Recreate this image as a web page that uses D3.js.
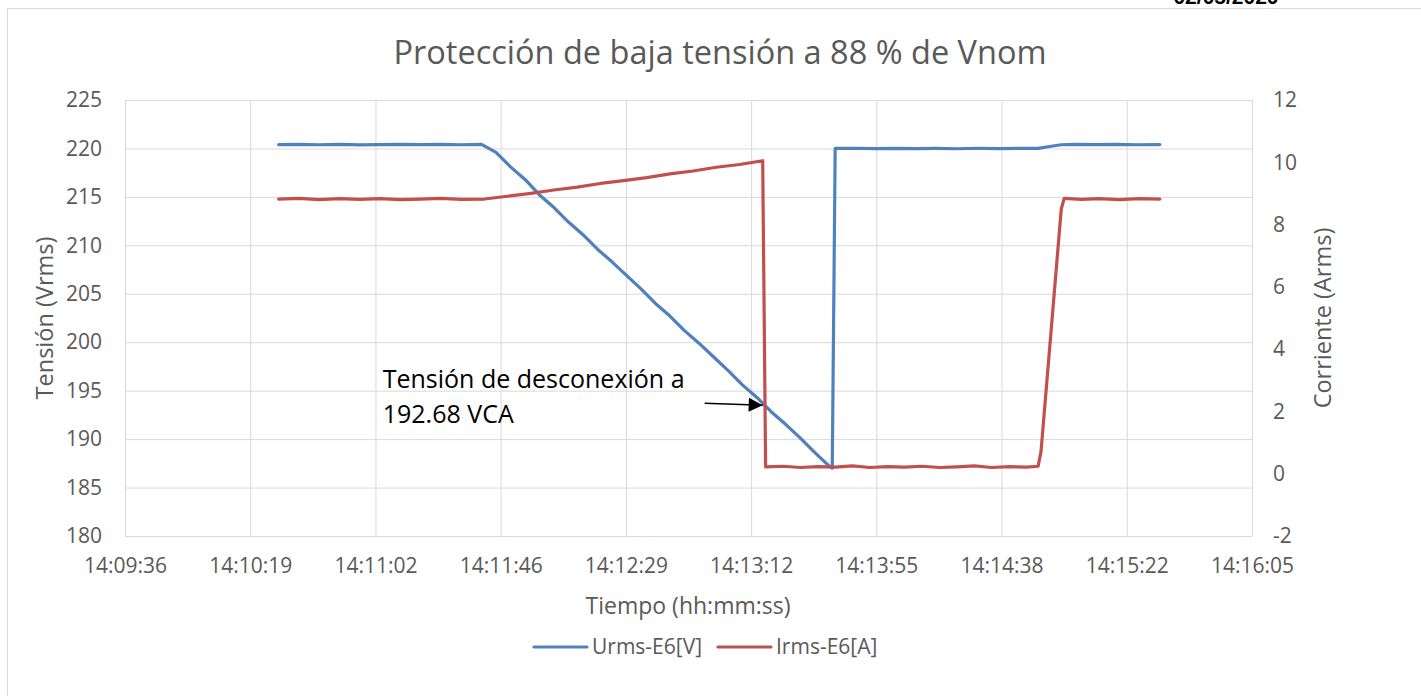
<html>
<head>
<meta charset="utf-8">
<script src="https://d3js.org/d3.v7.min.js"></script>
<style>
  body { margin: 0; background: #fff; }
  text { font-family: "Open Sans", sans-serif; fill: #595959; }
  .grid line { stroke: #d9d9d9; stroke-width: 1; }
  .grid path { display: none; }
  .axis path, .axis line { display: none; }
</style>
</head>
<body>
<svg width="1421" height="696"></svg>
<script>
// tick labels
var xTickLabels = ["14:09:36","14:10:19","14:11:02","14:11:46","14:12:29","14:13:12","14:13:55","14:14:38","14:15:22","14:16:05"];
var leftTicks = [180,185,190,195,200,205,210,215,220,225];
var rightTicks = [-2,0,2,4,6,8,10,12];

// Urms-E6[V]
var uTimes = ["14:10:29","14:10:36","14:10:43","14:10:50","14:10:57","14:11:04","14:11:11","14:11:18","14:11:25","14:11:32","14:11:39",
  "14:11:44","14:11:49","14:11:54","14:11:59","14:12:04","14:12:09","14:12:14","14:12:19","14:12:24","14:12:29",
  "14:12:34","14:12:39","14:12:44","14:12:49","14:12:54","14:12:59","14:13:04","14:13:09","14:13:14","14:13:19",
  "14:13:24","14:13:29","14:13:34","14:13:39","14:13:40","14:13:41",
  "14:13:48","14:13:55","14:14:02","14:14:09","14:14:16","14:14:23","14:14:30","14:14:37","14:14:44","14:14:51",
  "14:14:55","14:14:59","14:15:04","14:15:11","14:15:18","14:15:25","14:15:33"];
var uValues = [220.40,220.42,220.38,220.41,220.36,220.40,220.43,220.39,220.41,220.38,220.42,
  219.6,218.1,216.8,215.2,213.9,212.4,211.1,209.6,208.3,206.9,
  205.5,204.0,202.7,201.2,199.9,198.5,197.1,195.6,194.3,192.8,
  191.5,190.1,188.6,187.2,187.0,220.0,
  220.02,219.98,220.01,219.99,220.00,219.97,220.02,219.99,220.00,220.01,
  220.2,220.38,220.41,220.39,220.42,220.38,220.40];

// Irms-E6[A]
var iTimes = ["14:10:29","14:10:36","14:10:43","14:10:50","14:10:57","14:11:04","14:11:11","14:11:18","14:11:25","14:11:32","14:11:40",
  "14:11:48","14:11:56","14:12:04","14:12:12","14:12:20","14:12:28","14:12:36","14:12:44","14:12:52","14:13:00","14:13:08","14:13:16",
  "14:13:17","14:13:23","14:13:29","14:13:35","14:13:41","14:13:47","14:13:53","14:13:59","14:14:05","14:14:11","14:14:17",
  "14:14:23","14:14:29","14:14:35","14:14:41","14:14:47","14:14:51",
  "14:14:52","14:14:59","14:15:00","14:15:06","14:15:12","14:15:19","14:15:26","14:15:33"];
var iValues = [8.82,8.84,8.80,8.83,8.81,8.83,8.80,8.82,8.84,8.81,8.82,
  8.91,9.00,9.11,9.20,9.32,9.41,9.51,9.63,9.72,9.84,9.93,10.05,
  0.22,0.24,0.20,0.23,0.21,0.25,0.20,0.23,0.21,0.24,0.20,
  0.22,0.25,0.20,0.23,0.21,0.24,
  0.7,8.5,8.84,8.81,8.83,8.80,8.83,8.82];

var note = {time: "14:13:16", value: 193.5, lines: ["Tensión de desconexión a", "192.68 VCA"]};

var parse = d3.timeParse("%H:%M:%S");
var t0 = parse("14:09:36");
var step = 43.2 * 1000; // Excel major unit 0.0005 d

var svg = d3.select("svg");

// chart frame
svg.append("rect")
  .attr("x", 7.5).attr("y", 8.5).attr("width", 1430).attr("height", 720)
  .attr("fill", "none").attr("stroke", "#d9d9d9");

// date header, cut off at the top
svg.append("text")
  .attr("x", 1226).attr("y", 4)
  .attr("text-anchor", "middle")
  .style("font-family", "Liberation Sans, Arial, sans-serif")
  .style("font-weight", "bold").style("font-size", "21px").style("fill", "#000")
  .text("02/05/2020");

var pLeft = 125, pRight = 1252, pTop = 100, pBottom = 536;

var x = d3.scaleTime()
  .domain([t0, new Date(+t0 + 9 * step)])
  .range([pLeft, pRight]);
var y = d3.scaleLinear().domain([180, 225]).range([pBottom, pTop]);
var y2 = d3.scaleLinear().domain([-2, 12]).range([pBottom, pTop]);

var xTicks = d3.range(10).map(function(i) { return new Date(+t0 + i * step); });

// gridlines
svg.append("g").attr("class", "grid")
  .attr("transform", "translate(0," + pBottom + ")")
  .call(d3.axisBottom(x).tickValues(xTicks).tickSize(-(pBottom - pTop)).tickFormat(""));
svg.append("g").attr("class", "grid")
  .attr("transform", "translate(" + pLeft + ",0)")
  .call(d3.axisLeft(y).tickValues(leftTicks).tickSize(-(pRight - pLeft)).tickFormat(""));

// axes labels
var xAxis = svg.append("g").attr("class", "axis")
  .attr("transform", "translate(0," + pBottom + ")")
  .call(d3.axisBottom(x).tickValues(xTicks).tickSize(0).tickPadding(22)
    .tickFormat(function(d, i) { return xTickLabels[i]; }));
xAxis.selectAll("text").style("font-size", "21px").style("fill", "#595959");

var yAxis = svg.append("g").attr("class", "axis")
  .attr("transform", "translate(" + pLeft + ",0)")
  .call(d3.axisLeft(y).tickValues(leftTicks).tickSize(0).tickPadding(23));
yAxis.selectAll("text").style("font-size", "21px").style("fill", "#595959");

var y2Axis = svg.append("g").attr("class", "axis")
  .attr("transform", "translate(" + pRight + ",0)")
  .call(d3.axisRight(y2).tickValues(rightTicks).tickSize(0).tickPadding(21)
    .tickFormat(function(d) { return String(d); }));
y2Axis.selectAll("text").style("font-size", "21px").style("fill", "#595959");

// lines
var uData = uTimes.map(function(t, i) { return {t: parse(t), v: uValues[i]}; });
var iData = iTimes.map(function(t, i) { return {t: parse(t), v: iValues[i]}; });

svg.append("path").datum(uData)
  .attr("fill", "none").attr("stroke", "#4f81bd").attr("stroke-width", 3.2)
  .attr("stroke-linejoin", "round").attr("stroke-linecap", "round")
  .attr("d", d3.line().x(function(d) { return x(d.t); }).y(function(d) { return y(d.v); }));

svg.append("path").datum(iData)
  .attr("fill", "none").attr("stroke", "#c0504d").attr("stroke-width", 3.2)
  .attr("stroke-linejoin", "round").attr("stroke-linecap", "round")
  .attr("d", d3.line().x(function(d) { return x(d.t); }).y(function(d) { return y2(d.v); }));

// annotation
svg.append("defs").append("marker")
  .attr("id", "arrow").attr("viewBox", "0 0 10 10")
  .attr("refX", 10).attr("refY", 5)
  .attr("markerWidth", 16).attr("markerHeight", 14).attr("markerUnits", "userSpaceOnUse")
  .attr("orient", "auto")
  .append("path").attr("d", "M0,0 L10,5 L0,10 Z").attr("fill", "#000");

var nx = x(parse(note.time)), ny = y(note.value);
svg.append("line")
  .attr("x1", nx - 58).attr("y1", ny - 2).attr("x2", nx).attr("y2", ny)
  .attr("stroke", "#000").attr("stroke-width", 1.5)
  .attr("marker-end", "url(#arrow)");
svg.append("g").selectAll("text").data(note.lines).enter().append("text")
  .attr("x", nx - 380).attr("y", function(d, i) { return ny - 17 + i * 35; })
  .style("font-size", "25px").style("fill", "#000")
  .text(function(d) { return d; });

// titles
svg.append("text")
  .attr("x", 720).attr("y", 64).attr("text-anchor", "middle")
  .style("font-size", "32.5px")
  .text("Protección de baja tensión a 88 % de Vnom");

svg.append("text")
  .attr("x", 688).attr("y", 614).attr("text-anchor", "middle")
  .style("font-size", "23px")
  .text("Tiempo (hh:mm:ss)");

svg.append("text")
  .attr("transform", "translate(53,318) rotate(-90)").attr("text-anchor", "middle")
  .style("font-size", "23.5px")
  .text("Tensión (Vrms)");

svg.append("text")
  .attr("transform", "translate(1331,318) rotate(-90)").attr("text-anchor", "middle")
  .style("font-size", "23.5px")
  .text("Corriente (Arms)");

// legend
var legend = [{name: "Urms-E6[V]", color: "#4f81bd", x: 534}, {name: "Irms-E6[A]", color: "#c0504d", x: 718}];
var lg = svg.append("g").selectAll("g").data(legend).enter().append("g")
  .attr("transform", function(d) { return "translate(" + d.x + ",647)"; });
lg.append("line").attr("x1", 0).attr("x2", 53)
  .attr("stroke", function(d) { return d.color; }).attr("stroke-width", 3.2).attr("stroke-linecap", "round");
lg.append("text").attr("x", 58).attr("dy", "0.35em")
  .style("font-size", "21px")
  .text(function(d) { return d.name; });
</script>
</body>
</html>
